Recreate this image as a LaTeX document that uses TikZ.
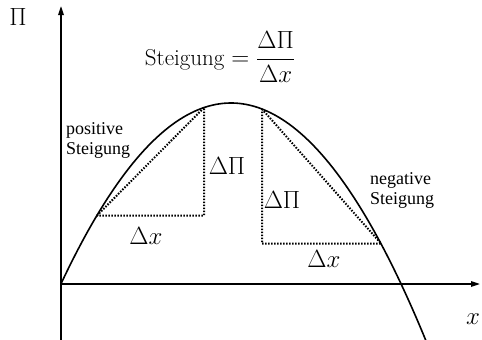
\documentclass[tikz,border=0pt]{standalone}
\usepackage{fontspec}
\newfontfamily\tnr{Liberation Serif}
\usetikzlibrary{arrows.meta}
\tikzset{
  axis/.style={line width=1.6pt,-{Triangle[length=9pt,width=5.5pt]}},
  curve/.style={line width=1.6pt},
  tri/.style={line width=2pt,dash pattern=on 1.5pt off 1.5pt},
  lbl/.style={font=\fontsize{23}{26}\selectfont,inner sep=0pt},
  small/.style={font=\tnr\fontsize{18}{20}\selectfont,align=left,inner sep=0pt}
}
\begin{document}
\begin{tikzpicture}[x=1pt,y=-1pt]
\useasboundingbox (0,0) rectangle (482,340);
\coordinate (ybot) at (61,340);
\coordinate (ytop) at (61,6);
\coordinate (xl) at (61,284);
\coordinate (xr) at (480,284);
\draw[axis] (ybot) -- (ytop);
\draw[axis] (xl) -- (xr);
\begin{scope}
\clip (0,0) rectangle (482,340);
\draw[curve] plot[domain=61:428,samples=120,smooth] (\x,{103+0.006263*(\x-231)*(\x-231)});
\end{scope}
% positive triangle
\coordinate (pa) at (97,215.5);
\coordinate (pb) at (204,107.6);
\coordinate (pc) at (204,215.5);
\draw[tri] (pa) -- (pb) -- (pc) -- cycle;
% negative triangle
\coordinate (na) at (262,109);
\coordinate (nb) at (381,243.5);
\coordinate (nc) at (262,243.5);
\draw[tri] (na) -- (nb) -- (nc) -- cycle;
\node[lbl] (pi) at (18,17) {$\Pi$};
\node[lbl] (xx) at (473,319) {$x$};
\node[lbl] (st) at (220,57) {Steigung $=\displaystyle\frac{\Delta\Pi}{\Delta x}$};
\node[small,anchor=west] (pos) at (66,140) {positive\\Steigung};
\node[small,anchor=west] (neg) at (370,190) {negative\\Steigung};
\node[lbl] (dp1) at (227,166) {$\Delta\Pi$};
\node[lbl] (dx1) at (146,236) {$\Delta x$};
\node[lbl] (dp2) at (282,200) {$\Delta\Pi$};
\node[lbl] (dx2) at (324,259) {$\Delta x$};
\end{tikzpicture}
\end{document}
